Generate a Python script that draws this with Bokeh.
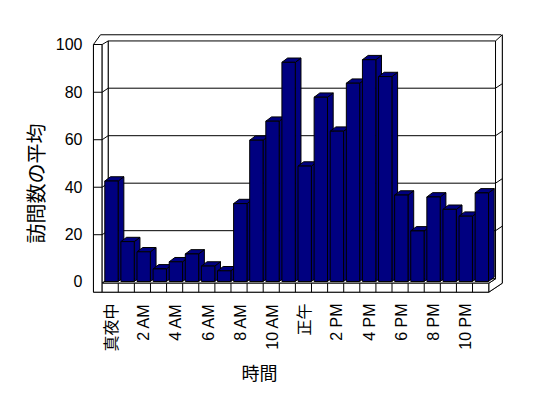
import math
from bokeh.plotting import figure
from bokeh.models import Range1d, FixedTicker, Title
from bokeh.embed import file_html
from bokeh.resources import INLINE

# ---- data -------------------------------------------------------------
hours = list(range(24))
visits = [42.3, 16.8, 12.5, 5.3, 8.3, 11.6, 6.5, 4.5, 32.8, 59.5, 67.5, 92.3,
          48.6, 77.6, 63.3, 83.5, 93.4, 86.3, 36.4, 21.3, 35.6, 30.4, 27.5, 37.3]
tick_positions = [0, 2, 4, 6, 8, 10, 12, 14, 16, 18, 20, 22]
tick_labels = ["真夜中", "2 AM", "4 AM", "6 AM", "8 AM", "10 AM",
               "正午", "2 PM", "4 PM", "6 PM", "8 PM", "10 PM"]
y_ticks = [0, 20, 40, 60, 80, 100]
x_title = "時間"
y_title = "訪問数の平均"

# ---- style / geometry (data units) -----------------------------------
NAVY = "#000080"
H = 0.415          # half width of bar front face (category units)
DX, DY = 0.354, 1.81   # bar depth offset
LF, LI, BW = -1.118, -0.578, -0.205   # left wall: front, inner, back-wall x
RB, RO, FR = 23.85, 24.27, 23.43       # back wall right, outer right, floor right
FB, FT, FK = -4.5, -0.72, 1.1          # floor bottom, floor front top, floor back
WT, TOP, FRONT_TOP = 101.3, 103.9, 99.8
FO, BO = -0.3, 1.4                      # front / back offsets for grid values

LAT = "Liberation Sans, Noto Sans CJK JP"
CJK = "Noto Sans CJK JP"

p = figure(width=548, height=398,
           x_range=Range1d(-1.24, 24.78), y_range=Range1d(-5.9, 105.7),
           output_backend="svg", toolbar_location=None,
           min_border_left=91, min_border_right=38,
           min_border_top=30, min_border_bottom=103)
p.outline_line_color = None
p.grid.visible = False
p.background_fill_color = "white"

# axes
p.xaxis.ticker = FixedTicker(ticks=tick_positions)
p.xaxis.major_label_overrides = {t: l for t, l in zip(tick_positions, tick_labels)}
p.xaxis.major_label_orientation = math.pi / 2
p.yaxis.ticker = FixedTicker(ticks=y_ticks)
for ax in (p.xaxis, p.yaxis):
    ax.axis_line_color = None
    ax.major_tick_line_color = None
    ax.minor_tick_line_color = None
    ax.major_tick_out = 0
    ax.major_tick_in = 0
    ax.major_label_text_font = LAT
    ax.major_label_text_font_size = "16px"
    ax.major_label_text_color = "black"
p.xaxis.major_label_standoff = 8
p.yaxis.major_label_standoff = 9

# axis titles
p.add_layout(Title(text=y_title, align="left", offset=52, standoff=6,
                   text_font=CJK, text_font_size="20px", text_font_style="normal",
                   text_color="black"), "left")
p.add_layout(Title(text=x_title, align="left", offset=150, standoff=4,
                   text_font=CJK, text_font_size="18px", text_font_style="normal",
                   text_color="black"), "below")

LW = dict(line_color="black", line_width=1)

# silhouette of the box
p.patch([LF, LF, -0.683, 24.2, RO, RO, FR],
        [FB, FRONT_TOP, TOP, TOP, 103.2, FT, FB], fill_color="white", **LW)
# back wall front face
p.quad(left=BW, right=RB, bottom=FK, top=WT, fill_color="white", **LW)
# right slab
p.patch([FR, RB, RB, RO, RO, FR], [FT, FK, WT, TOP, FT, FB], fill_color="white", **LW)
# left wall front face & inner face
p.quad(left=LF, right=LI, bottom=FB, top=FRONT_TOP, fill_color="white", **LW)
p.patch([LI, BW, BW, LI], [FRONT_TOP, WT, FK, FT], fill_color="white", **LW)

# gridlines
gv = [v for v in y_ticks if 0 < v < 100]
p.segment(x0=[BW] * len(gv), y0=[v + BO for v in gv], x1=[RB] * len(gv), y1=[v + BO for v in gv], **LW)
p.segment(x0=[LF] * len(gv), y0=[v + FO for v in gv], x1=[LI] * len(gv), y1=[v + FO for v in gv], **LW)
p.segment(x0=[LI] * len(gv), y0=[v + FO for v in gv], x1=[BW] * len(gv), y1=[v + BO for v in gv], **LW)
p.segment(x0=[RB] * len(gv), y0=[v + BO for v in gv], x1=[RO] * len(gv), y1=[v + BO + 1.9 for v in gv], **LW)

# floor
p.patch([LI, FR, RB, BW], [FT, FT, FK, FK], fill_color="white", **LW)
p.quad(left=LI, right=FR, bottom=FB, top=FT, fill_color="white", **LW)
div = [LI + k for k in range(1, 24)]
p.segment(x0=div, y0=[FB] * len(div), x1=div, y1=[FT] * len(div), **LW)

# bars
side_xs = [[h + H, h + H + DX, h + H + DX, h + H] for h in hours]
side_ys = [[0, DY, v + DY, v] for v in visits]
top_xs = [[h - H, h + H, h + H + DX, h - H + DX] for h in hours]
top_ys = [[v, v, v + DY, v + DY] for v in visits]
p.patches(side_xs, side_ys, fill_color=NAVY, **LW)
p.patches(top_xs, top_ys, fill_color=NAVY, **LW)
p.quad(left=[h - H for h in hours], right=[h + H for h in hours],
       bottom=[0] * 24, top=visits, fill_color=NAVY, **LW)

open("out.html", "w").write(file_html(p, INLINE))
